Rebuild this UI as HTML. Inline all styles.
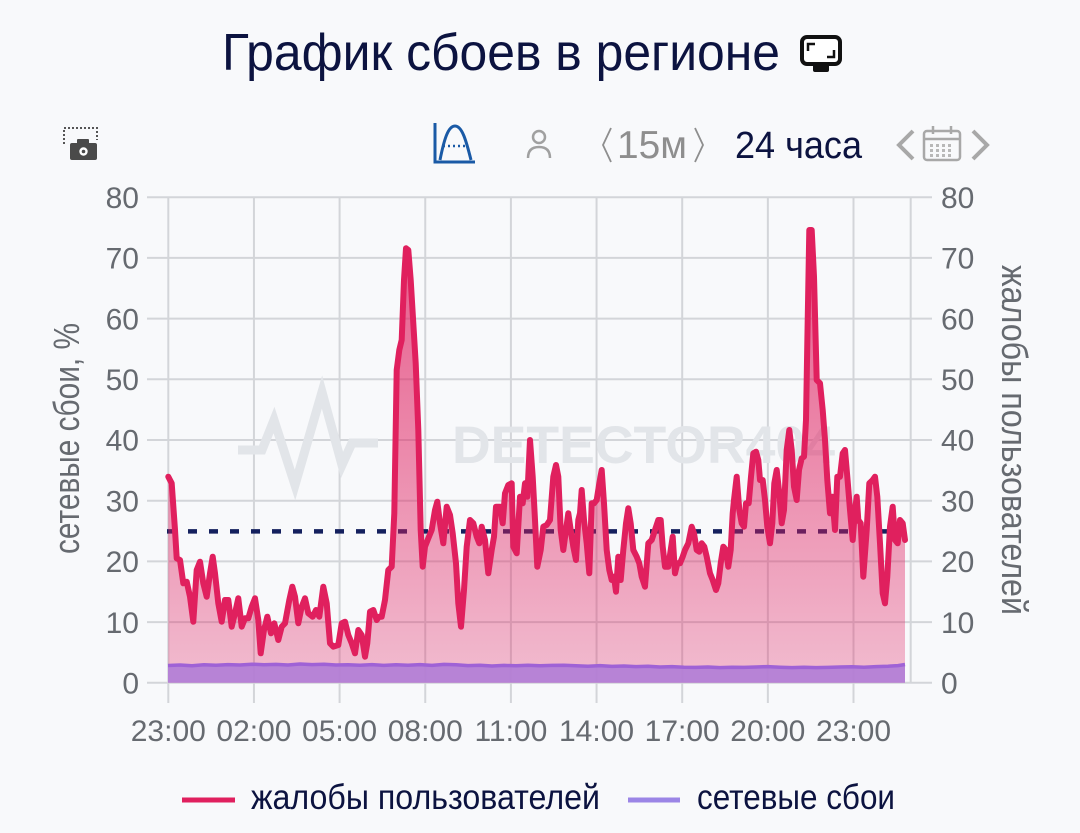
<!DOCTYPE html>
<html>
<head>
<meta charset="utf-8">
<style>
html,body{margin:0;padding:0;background:#f8f9fb;}
svg{display:block;}
text{font-family:"Liberation Sans","DejaVu Sans",sans-serif;}
</style>
</head>
<body>
<svg width="1080" height="833" viewBox="0 0 1080 833" xmlns="http://www.w3.org/2000/svg">
<defs>
<linearGradient id="pk" gradientUnits="userSpaceOnUse" x1="0" y1="197" x2="0" y2="683">
<stop offset="0" stop-color="#e01e5f" stop-opacity="0.76"/>
<stop offset="1" stop-color="#e01e5f" stop-opacity="0.28"/>
</linearGradient>
</defs>
<rect width="1080" height="833" fill="#f8f9fb"/>

<!-- Title -->
<text x="222" y="70" font-size="52" fill="#0c1340" textLength="558" lengthAdjust="spacingAndGlyphs">График сбоев в регионе</text>
<g>
<rect x="802" y="37" width="38" height="27" rx="5" fill="#fff" stroke="#111" stroke-width="4"/>
<path d="M808,51 V44 H815" fill="none" stroke="#111" stroke-width="2.5"/>
<path d="M834,50 V57 H827" fill="none" stroke="#111" stroke-width="2.5"/>
<rect x="813" y="63" width="16" height="9" rx="2" fill="#111"/>
</g>

<!-- Toolbar -->
<g>
<path d="M64,144 V128 H97 V140" fill="none" stroke="#555" stroke-width="2" stroke-dasharray="2 2"/>
<rect x="77" y="139" width="12" height="6" rx="1" fill="#4a4a4a"/>
<rect x="70" y="143" width="27" height="17" rx="2" fill="#4a4a4a"/>
<circle cx="83.5" cy="151.5" r="4.2" fill="#fff"/>
<circle cx="83.5" cy="151.5" r="1.8" fill="#4a4a4a"/>
</g>
<g fill="none" stroke="#1a5aa6">
<path d="M435,123 V162 H475" stroke-width="3"/>
<path d="M440,160 C444,140 448,126 455,126 C462,126 466,140 471,160" stroke-width="3"/>
<line x1="443" y1="146" x2="468" y2="146" stroke-width="2.5" stroke-dasharray="2 3"/>
</g>
<g fill="none" stroke="#a0a0a0" stroke-width="2.5">
<circle cx="539" cy="137" r="6"/>
<path d="M528,158 Q528,147 539,147 Q550,147 550,158"/>
</g>
<polyline points="611,128 603,145 611,162" fill="none" stroke="#8e8e8e" stroke-width="1.8"/>
<text x="617" y="158" font-size="39" fill="#8e8e8e" textLength="70" lengthAdjust="spacingAndGlyphs">15м</text>
<polyline points="695,128 703,145 695,162" fill="none" stroke="#8e8e8e" stroke-width="1.8"/>
<text x="735" y="158" font-size="38" fill="#0c1340" textLength="127" lengthAdjust="spacingAndGlyphs">24 часа</text>
<polyline points="913,131 899,145 913,159" fill="none" stroke="#a8a8a8" stroke-width="4"/>
<polyline points="973,131 987,145 973,159" fill="none" stroke="#a8a8a8" stroke-width="4"/>
<g>
<rect x="924" y="131" width="36" height="29" rx="3" fill="none" stroke="#a8a8a8" stroke-width="2.5"/>
<line x1="924" y1="139" x2="960" y2="139" stroke="#a8a8a8" stroke-width="2.5"/>
<line x1="933" y1="126" x2="933" y2="134" stroke="#a8a8a8" stroke-width="2.5"/>
<line x1="951" y1="126" x2="951" y2="134" stroke="#a8a8a8" stroke-width="2.5"/>
<g fill="#b8b8b8">
<rect x="930" y="144" width="3" height="3"/><rect x="936" y="144" width="3" height="3"/><rect x="942" y="144" width="3" height="3"/><rect x="948" y="144" width="3" height="3"/>
<rect x="930" y="149" width="3" height="3"/><rect x="936" y="149" width="3" height="3"/><rect x="942" y="149" width="3" height="3"/><rect x="948" y="149" width="3" height="3"/>
<rect x="930" y="154" width="3" height="3"/><rect x="936" y="154" width="3" height="3"/><rect x="942" y="154" width="3" height="3"/><rect x="948" y="154" width="3" height="3"/>
</g>
</g>

<!-- Grid -->
<g stroke="#d3d5d9" stroke-width="2">
<line x1="147" y1="682.8" x2="932" y2="682.8"/>
<line x1="147" y1="622.1" x2="932" y2="622.1"/>
<line x1="147" y1="561.4" x2="932" y2="561.4"/>
<line x1="147" y1="500.7" x2="932" y2="500.7"/>
<line x1="147" y1="440" x2="932" y2="440"/>
<line x1="147" y1="379.3" x2="932" y2="379.3"/>
<line x1="147" y1="318.6" x2="932" y2="318.6"/>
<line x1="147" y1="257.9" x2="932" y2="257.9"/>
<line x1="147" y1="197.2" x2="932" y2="197.2"/>
<line x1="168.3" y1="197.2" x2="168.3" y2="703"/>
<line x1="253.95" y1="197.2" x2="253.95" y2="703"/>
<line x1="339.6" y1="197.2" x2="339.6" y2="703"/>
<line x1="425.25" y1="197.2" x2="425.25" y2="703"/>
<line x1="510.9" y1="197.2" x2="510.9" y2="703"/>
<line x1="596.55" y1="197.2" x2="596.55" y2="703"/>
<line x1="682.2" y1="197.2" x2="682.2" y2="703"/>
<line x1="767.85" y1="197.2" x2="767.85" y2="703"/>
<line x1="853.5" y1="197.2" x2="853.5" y2="703"/>
<line x1="910.7" y1="197.2" x2="910.7" y2="682.8"/>
</g>

<!-- Watermark -->
<polyline points="238,450 262,450 274,420 295,485 322,392 342,465 352,443 378,443" fill="none" stroke="#e2e5e9" stroke-width="9" stroke-linejoin="miter"/>
<text x="452" y="463" font-size="53" font-weight="bold" fill="#e2e5e9" textLength="383" lengthAdjust="spacingAndGlyphs">DETECTOR404</text>

<!-- Dashed threshold -->
<line x1="167" y1="531.4" x2="905" y2="531.4" stroke="#14205e" stroke-width="4.5" stroke-dasharray="9 12"/>

<!-- Pink area -->
<path fill="url(#pk)" d="M168.3,682.8 L168.3,476.7 171.7,483.3 175,530 176.7,558.3 180,560 183.3,583.3 186.7,581.7 190,596.7 193.3,621.7 196.7,570 200,561.7 203.3,583.3 206.7,596.7 210,573.3 212.7,556.7 215,573.3 218.3,603.3 221.7,621.7 225,600 228.3,600 231.7,626.7 235,613.3 238.3,598.3 241.7,626.7 245,618.3 248.3,618.3 251.7,606.7 255,598.3 258.3,620 260.7,653.3 264,630 267.3,616.7 271,633.3 274.3,623.3 278.3,640 281.7,626.7 285,623.3 289.3,600 292.3,586.7 295,596.7 298.3,623.3 301.7,606.7 305,598.3 308.3,613.3 312.7,616.7 316,610 319.3,616.7 323.3,586.7 326.7,603.3 330,643.3 333.3,646.7 338.3,645 341.7,623.3 345,621.7 348.3,635 351.7,643.3 355,653.3 358.3,630 361.7,635 365,656.7 367.3,643.3 370,611.7 373.3,610 376.7,620 379,616.7 381.7,616.7 385,600 388.3,570 391.7,566.7 394.3,513.3 396.7,370 399.3,350 401.7,340 404,280 406,248.3 408.3,250 410.7,280 413.3,323.3 415.7,363.3 418.3,430 420.7,530 422.7,566.7 425,546.7 428.3,538.3 431.7,530 435,510 437.3,501.7 440,523.3 443.3,543.3 446.7,506.7 450,515 452.7,533.3 456,563.3 458.3,603.3 461,626.7 464,590 466.7,546.7 470,520 473.3,523.3 476.7,536.7 479.3,543.3 481.7,526.7 485,540 488.3,573.3 491.7,550 494,536.7 496,506.7 500,506.7 502.7,523.3 505,493.3 508.3,485 511.7,483.3 513.3,546.7 516.7,553.3 520,496.7 522.7,503.3 525,483.3 527.3,496.7 530,440 532.7,476.7 535,520 537.3,566.7 540.7,550 543.3,526.7 546.7,525 550,520 553.3,476.7 556,465 558.3,476.7 560.7,530 563.3,550 566,530 568.3,513.3 570.7,530 573.3,546.7 576,560 578.3,520 580,513.3 581.7,490 584,520 586.7,543.3 589.3,573.3 591.7,503.3 594,503.3 596.7,500 599.3,483.3 601.7,470 604,503.3 606.7,550 609.3,570 611.7,580 614,576.7 616,591.7 618.3,556.7 620.7,580 623.3,550 626,523.3 628.3,508.3 630.7,523.3 633.3,550 636.7,556.7 639.3,563.3 641.7,576.7 645,586.7 648.3,543.3 651.7,540 655,530 658.3,520 660.7,520 662.7,546.7 665,566.7 668.3,566.7 670.7,550 672.7,536.7 675,573.3 677.3,563.3 680,563.3 682.7,556.7 685,550 688.3,543.3 691.7,526.7 694,533.3 696.7,550 699.3,551.7 701.7,543.3 704.3,546.7 706.7,556.7 710,573.3 712.7,580 716,590 718.3,583.3 720.7,563.3 723.3,546.7 726,550 728.3,566.7 730.7,550 732.7,513.3 734,500 736.7,476.7 739.3,510 741.7,523.3 744,526.7 746,503.3 748.7,503.3 751,476.7 753.3,453.3 756,451.7 758.3,460 760,480 762.7,480 765,500 767.3,526.7 770,543.3 772.3,523.3 774.3,483.3 776.7,470 779.3,493.3 781.7,523.3 784,510 786.7,450 789.3,430 791.7,450 794,486.7 796.7,500 799,470 801.7,458.3 804,456.7 806,420 807.3,343.3 809.3,230 811.7,230 814,276.7 816.7,380 820,383.3 822.7,410 825,440 827.3,480 830,513.3 832.3,496.7 835,530 837.3,476.7 840,476.7 842.7,453.3 845,450 847.3,476.7 850,510 852.7,540 855,510 856.7,496.7 858.3,520 860.7,523.3 863.3,576.7 866.7,530 869.3,483.3 872.7,480 875,476.7 877.3,496.7 880,543.3 882.7,593.3 885,603.3 887.3,576.7 890,526.7 892.7,506.7 895,540 897.7,543.3 900,520 902.7,523.3 905,540 L905,682.8 Z"/>

<!-- Purple area -->
<path fill="#b380d6" fill-opacity="0.95" d="M168,682.8 L168,665.5 180,665 192,665.8 204,664.8 216,665.2 228,664.6 240,665 252,664.2 264,664.8 276,664.4 288,665 300,664 312,664.6 324,664.2 336,665 348,664.8 360,665.2 372,664.6 384,665.4 396,664.8 408,665.2 420,664.6 432,665.4 444,664.4 456,664.8 468,665.6 480,665.2 492,666 504,665.4 516,665.8 528,665.2 540,665.8 552,665.4 564,665.2 576,665.8 588,666.2 600,665.6 612,666.4 624,666 636,666.6 648,666.2 660,667 672,666.6 684,667.2 696,667.4 708,667 720,667.6 732,667.2 744,667.4 756,667 768,666.6 780,667.2 792,667.6 804,667.2 816,667.6 828,667.4 840,667 852,666.8 864,667.2 876,666.6 888,666.2 898,665.6 905,664.5 L905,682.8 Z"/>
<polyline fill="none" stroke="#9f62d6" stroke-width="3.5" stroke-linejoin="round" points="168,665.5 180,665 192,665.8 204,664.8 216,665.2 228,664.6 240,665 252,664.2 264,664.8 276,664.4 288,665 300,664 312,664.6 324,664.2 336,665 348,664.8 360,665.2 372,664.6 384,665.4 396,664.8 408,665.2 420,664.6 432,665.4 444,664.4 456,664.8 468,665.6 480,665.2 492,666 504,665.4 516,665.8 528,665.2 540,665.8 552,665.4 564,665.2 576,665.8 588,666.2 600,665.6 612,666.4 624,666 636,666.6 648,666.2 660,667 672,666.6 684,667.2 696,667.4 708,667 720,667.6 732,667.2 744,667.4 756,667 768,666.6 780,667.2 792,667.6 804,667.2 816,667.6 828,667.4 840,667 852,666.8 864,667.2 876,666.6 888,666.2 898,665.6 905,664.5"/>

<!-- Red line -->
<polyline fill="none" stroke="#e0205e" stroke-width="6" stroke-linejoin="round" stroke-linecap="round" points="168.3,476.7 171.7,483.3 175,530 176.7,558.3 180,560 183.3,583.3 186.7,581.7 190,596.7 193.3,621.7 196.7,570 200,561.7 203.3,583.3 206.7,596.7 210,573.3 212.7,556.7 215,573.3 218.3,603.3 221.7,621.7 225,600 228.3,600 231.7,626.7 235,613.3 238.3,598.3 241.7,626.7 245,618.3 248.3,618.3 251.7,606.7 255,598.3 258.3,620 260.7,653.3 264,630 267.3,616.7 271,633.3 274.3,623.3 278.3,640 281.7,626.7 285,623.3 289.3,600 292.3,586.7 295,596.7 298.3,623.3 301.7,606.7 305,598.3 308.3,613.3 312.7,616.7 316,610 319.3,616.7 323.3,586.7 326.7,603.3 330,643.3 333.3,646.7 338.3,645 341.7,623.3 345,621.7 348.3,635 351.7,643.3 355,653.3 358.3,630 361.7,635 365,656.7 367.3,643.3 370,611.7 373.3,610 376.7,620 379,616.7 381.7,616.7 385,600 388.3,570 391.7,566.7 394.3,513.3 396.7,370 399.3,350 401.7,340 404,280 406,248.3 408.3,250 410.7,280 413.3,323.3 415.7,363.3 418.3,430 420.7,530 422.7,566.7 425,546.7 428.3,538.3 431.7,530 435,510 437.3,501.7 440,523.3 443.3,543.3 446.7,506.7 450,515 452.7,533.3 456,563.3 458.3,603.3 461,626.7 464,590 466.7,546.7 470,520 473.3,523.3 476.7,536.7 479.3,543.3 481.7,526.7 485,540 488.3,573.3 491.7,550 494,536.7 496,506.7 500,506.7 502.7,523.3 505,493.3 508.3,485 511.7,483.3 513.3,546.7 516.7,553.3 520,496.7 522.7,503.3 525,483.3 527.3,496.7 530,440 532.7,476.7 535,520 537.3,566.7 540.7,550 543.3,526.7 546.7,525 550,520 553.3,476.7 556,465 558.3,476.7 560.7,530 563.3,550 566,530 568.3,513.3 570.7,530 573.3,546.7 576,560 578.3,520 580,513.3 581.7,490 584,520 586.7,543.3 589.3,573.3 591.7,503.3 594,503.3 596.7,500 599.3,483.3 601.7,470 604,503.3 606.7,550 609.3,570 611.7,580 614,576.7 616,591.7 618.3,556.7 620.7,580 623.3,550 626,523.3 628.3,508.3 630.7,523.3 633.3,550 636.7,556.7 639.3,563.3 641.7,576.7 645,586.7 648.3,543.3 651.7,540 655,530 658.3,520 660.7,520 662.7,546.7 665,566.7 668.3,566.7 670.7,550 672.7,536.7 675,573.3 677.3,563.3 680,563.3 682.7,556.7 685,550 688.3,543.3 691.7,526.7 694,533.3 696.7,550 699.3,551.7 701.7,543.3 704.3,546.7 706.7,556.7 710,573.3 712.7,580 716,590 718.3,583.3 720.7,563.3 723.3,546.7 726,550 728.3,566.7 730.7,550 732.7,513.3 734,500 736.7,476.7 739.3,510 741.7,523.3 744,526.7 746,503.3 748.7,503.3 751,476.7 753.3,453.3 756,451.7 758.3,460 760,480 762.7,480 765,500 767.3,526.7 770,543.3 772.3,523.3 774.3,483.3 776.7,470 779.3,493.3 781.7,523.3 784,510 786.7,450 789.3,430 791.7,450 794,486.7 796.7,500 799,470 801.7,458.3 804,456.7 806,420 807.3,343.3 809.3,230 811.7,230 814,276.7 816.7,380 820,383.3 822.7,410 825,440 827.3,480 830,513.3 832.3,496.7 835,530 837.3,476.7 840,476.7 842.7,453.3 845,450 847.3,476.7 850,510 852.7,540 855,510 856.7,496.7 858.3,520 860.7,523.3 863.3,576.7 866.7,530 869.3,483.3 872.7,480 875,476.7 877.3,496.7 880,543.3 882.7,593.3 885,603.3 887.3,576.7 890,526.7 892.7,506.7 895,540 897.7,543.3 900,520 902.7,523.3 905,540"/>

<!-- Left y labels -->
<g font-size="30" fill="#666a70" text-anchor="end">
<text x="139" y="693.5">0</text>
<text x="139" y="632.8">10</text>
<text x="139" y="572.1">20</text>
<text x="139" y="511.4">30</text>
<text x="139" y="450.7">40</text>
<text x="139" y="390">50</text>
<text x="139" y="329.3">60</text>
<text x="139" y="268.6">70</text>
<text x="139" y="207.9">80</text>
</g>
<!-- Right y labels -->
<g font-size="30" fill="#666a70" text-anchor="start">
<text x="941" y="693.5">0</text>
<text x="941" y="632.8">10</text>
<text x="941" y="572.1">20</text>
<text x="941" y="511.4">30</text>
<text x="941" y="450.7">40</text>
<text x="941" y="390">50</text>
<text x="941" y="329.3">60</text>
<text x="941" y="268.6">70</text>
<text x="941" y="207.9">80</text>
</g>
<!-- X labels -->
<g font-size="30" fill="#666a70" text-anchor="middle">
<text x="168.3" y="741">23:00</text>
<text x="253.95" y="741">02:00</text>
<text x="339.6" y="741">05:00</text>
<text x="425.25" y="741">08:00</text>
<text x="510.9" y="741">11:00</text>
<text x="596.55" y="741">14:00</text>
<text x="682.2" y="741">17:00</text>
<text x="767.85" y="741">20:00</text>
<text x="853.5" y="741">23:00</text>
</g>

<!-- Axis titles -->
<text transform="translate(79,438.5) rotate(-90)" text-anchor="middle" font-size="36" fill="#666a70" textLength="231" lengthAdjust="spacingAndGlyphs">сетевые сбои, %</text>
<text transform="translate(1002,440) rotate(90)" text-anchor="middle" font-size="36" fill="#666a70" textLength="350" lengthAdjust="spacingAndGlyphs">жалобы пользователей</text>

<!-- Legend -->
<line x1="182" y1="800" x2="235" y2="800" stroke="#e0205e" stroke-width="5"/>
<text x="251" y="809" font-size="35" fill="#0c1340" textLength="349" lengthAdjust="spacingAndGlyphs">жалобы пользователей</text>
<line x1="628" y1="800" x2="680" y2="800" stroke="#9b85e6" stroke-width="5"/>
<text x="697" y="809" font-size="35" fill="#0c1340" textLength="198" lengthAdjust="spacingAndGlyphs">сетевые сбои</text>
</svg>
</body>
</html>
